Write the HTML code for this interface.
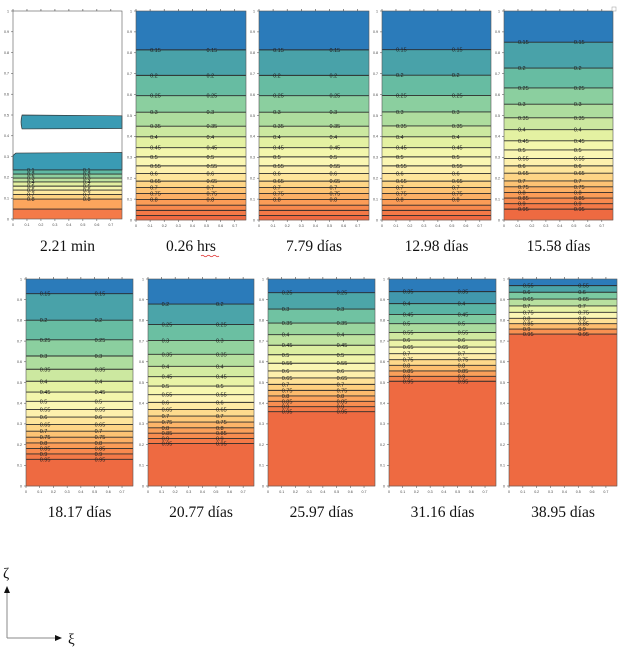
<!DOCTYPE html>
<html><head><meta charset="utf-8"><style>
body{margin:0;background:#fff;width:627px;height:653px;overflow:hidden;font-family:"Liberation Serif",serif}
svg{position:absolute;left:0;top:0}
</style></head><body>
<svg id="chart" width="627" height="653" viewBox="0 0 627 653"></svg>
<script>
// panel titles
const titles = ["2.21 min","0.26 hrs","7.79 días","12.98 días","15.58 días","18.17 días","20.77 días","25.97 días","31.16 días","38.95 días"];
// contour levels per panel
const levels2 = [0.15,0.2,0.25,0.3,0.35,0.4,0.45,0.5,0.55,0.6,0.65,0.7,0.75,0.8,0.85,0.9,0.95];
const pos2 = [0.814,0.692,0.595,0.516,0.449,0.398,0.346,0.302,0.259,0.222,0.186,0.156,0.127,0.098,0.071,0.046,0.021];
const pos3 = [0.814,0.692,0.595,0.516,0.449,0.398,0.346,0.302,0.259,0.222,0.186,0.156,0.127,0.098,0.071,0.046,0.021];
const pos4 = [0.815,0.693,0.596,0.517,0.450,0.398,0.346,0.302,0.259,0.222,0.186,0.156,0.127,0.098,0.071,0.046,0.021];
const pos5 = [0.851,0.727,0.632,0.554,0.489,0.432,0.379,0.335,0.294,0.259,0.224,0.187,0.159,0.132,0.105,0.078,0.052];
const levels6 = [0.15,0.2,0.25,0.3,0.35,0.4,0.45,0.5,0.55,0.6,0.65,0.7,0.75,0.8,0.85,0.9,0.95];
const pos6 = [0.929,0.801,0.706,0.628,0.564,0.506,0.454,0.409,0.370,0.333,0.297,0.265,0.236,0.208,0.181,0.155,0.129];
const levels7 = [0.2,0.25,0.3,0.35,0.4,0.45,0.5,0.55,0.6,0.65,0.7,0.75,0.8,0.85,0.9,0.95];
const pos7 = [0.879,0.780,0.703,0.636,0.578,0.528,0.483,0.441,0.404,0.370,0.338,0.309,0.281,0.255,0.229,0.205];
const levels8 = [0.25,0.3,0.35,0.4,0.45,0.5,0.55,0.6,0.65,0.7,0.75,0.8,0.85,0.9,0.95];
const pos8 = [0.934,0.855,0.787,0.731,0.680,0.634,0.593,0.556,0.522,0.491,0.462,0.435,0.409,0.383,0.359];
const levels9 = [0.35,0.4,0.45,0.5,0.55,0.6,0.65,0.7,0.75,0.8,0.85,0.9,0.95];
const pos9 = [0.939,0.881,0.829,0.784,0.742,0.705,0.671,0.639,0.610,0.583,0.556,0.530,0.506];
const levels10 = [0.55,0.6,0.65,0.7,0.75,0.8,0.85,0.9,0.95];
const pos10 = [0.968,0.936,0.903,0.870,0.839,0.810,0.784,0.758,0.734];
const levels1 = [0.1,0.2,0.3,0.4,0.5,0.6,0.7,0.8,0.9];
const pos1 = [0.236,0.216,0.197,0.178,0.158,0.139,0.118,0.096,0.048];
const xTicks = [0,0.1,0.2,0.3,0.4,0.5,0.6,0.7];
const yTicks = [0,0.1,0.2,0.3,0.4,0.5,0.6,0.7,0.8,0.9,1];

const panels = [
 {x:13,y:11,w:109,h:208,lv:levels1,p:pos1,ty:246},
 {x:136,y:11,w:110,h:209,lv:levels2,p:pos2,ty:246},
 {x:259,y:11,w:110,h:209,lv:levels2,p:pos3,ty:246},
 {x:382,y:11,w:109,h:209,lv:levels2,p:pos4,ty:246},
 {x:504,y:11,w:109,h:209,lv:levels2,p:pos5,ty:246},
 {x:26,y:279,w:107,h:207,lv:levels6,p:pos6,ty:512},
 {x:148,y:279,w:106,h:207,lv:levels7,p:pos7,ty:512},
 {x:268,y:279,w:107,h:207,lv:levels8,p:pos8,ty:512},
 {x:389,y:279,w:107,h:207,lv:levels9,p:pos9,ty:512},
 {x:509,y:279,w:108,h:207,lv:levels10,p:pos10,ty:512}
];
const cmap=['#2b7bba','#3f96ae','#55b0a4','#77c7a1','#9fd79d','#c4e5a0','#e2f0a1','#f5f7ad','#fdf6b6','#fee8a0','#fed282','#fdb96b','#fb9c57','#f5804a','#ee6a41'];
function cm(t){t=Math.max(0,Math.min(1,t));const f=t*(cmap.length-1),i=Math.floor(f),r=f-i;
 if(i>=cmap.length-1)return cmap[cmap.length-1];
 const a=cmap[i],b=cmap[i+1];const h=(s,k)=>parseInt(s.substr(1+2*k,2),16);
 return 'rgb('+[0,1,2].map(k=>Math.round(h(a,k)*(1-r)+h(b,k)*r)).join(',')+')';}
const NS='http://www.w3.org/2000/svg';
const svg=document.getElementById('chart');
function mk(tag,at,parent){const e=document.createElementNS(NS,tag);for(const k in at)e.setAttribute(k,at[k]);(parent||svg).appendChild(e);return e;}

panels.forEach((P,pi)=>{
 const g=mk('g',{});
 
 
 const xs=v=>P.x+v/0.78*P.w, ys=v=>P.y+P.h-v*P.h;
 const n=P.p.length;
 if(pi===0){
  const blob=mk('path',{d:`M${xs(0.065)},${ys(0.5)} L${xs(0.78)},${ys(0.496)} L${xs(0.78)},${ys(0.435)} L${xs(0.065)},${ys(0.433)} Q${xs(0.05)},${ys(0.466)} ${xs(0.065)},${ys(0.5)}Z`,fill:'#3a9bb4',stroke:'#333','stroke-width':0.7},g);
  
  
  mk('path',{d:`M${xs(0)},${ys(0.305)} L${xs(0.02)},${ys(0.317)} L${xs(0.78)},${ys(0.32)} L${xs(0.78)},${ys(P.p[0])} L${xs(0)},${ys(P.p[0])}Z`,fill:'#3a9bb4',stroke:'#333','stroke-width':0.7},g);
  const c1=['#5fb9a3','#8fd09e','#bfe2a0','#e3f0a1','#f6f6ad','#fee9a0','#fed282','#fca55d','#f47a48'];
  for(let i=0;i<n;i++){
   const top=P.p[i],bot=i+1<n?P.p[i+1]:0;
   mk('rect',{x:P.x,y:ys(top),width:P.w,height:(top-bot)*P.h,fill:c1[i]},g);
  }
 } else {
  const nb=n+1;
  const ex=nb>14?0.8:1;
  for(let i=0;i<nb;i++){
   const top=i===0?1:P.p[i-1], bot=i<n?P.p[i]:0;
   const r=mk('rect',{x:P.x,y:ys(top),width:P.w,height:(top-bot)*P.h+0.3,fill:cm(Math.pow(i/(nb-1),ex))},g);
   
   
  }
 }
 for(let i=0;i<n;i++){
  const y=ys(P.p[i]);
  const l=mk('line',{x1:P.x,x2:P.x+P.w,y1:y,y2:y,stroke:'#2a2a2a','stroke-width':0.9},g);
  
  
  if(!(pi===1||pi===2||pi===3)||i<14){
   if(pi===0&&i===n-1)continue;
   [0.1,0.5].forEach(xv=>{
    const lab=String(P.lv[i]);
    const tx=xs(xv);
    const t=mk('text',{x:tx,y:y+2,'font-size':5.5,'font-family':'Liberation Sans, sans-serif',fill:'#222'},g);
    t.textContent=lab;
    
    
   });
  }
 }
 mk('rect',{x:P.x,y:P.y,width:P.w,height:P.h,fill:'none',stroke:'#555','stroke-width':0.6},g);
 yTicks.forEach(v=>{
  const y=ys(v);
  mk('line',{x1:P.x-2,x2:P.x,y1:y,y2:y,stroke:'#444','stroke-width':0.5},g);
  const t=mk('text',{x:P.x-4,y:y+1.3,'font-size':3.6,'text-anchor':'end','font-family':'Liberation Sans, sans-serif',fill:'#444'},g);
  t.textContent=String(v);
 });
 xTicks.forEach(v=>{
  const x=xs(v);
  mk('line',{x1:x,x2:x,y1:P.y+P.h,y2:P.y+P.h+2,stroke:'#444','stroke-width':0.5},g);
  mk('line',{x1:x,x2:x,y1:P.y-2,y2:P.y,stroke:'#444','stroke-width':0.6},g);
  const t=mk('text',{x:x,y:P.y+P.h+7,'font-size':3.6,'text-anchor':'middle','font-family':'Liberation Sans, sans-serif',fill:'#444'},g);
  t.textContent=String(v);
 });
 const tt=mk('text',{x:P.x+P.w/2,y:P.ty+5,'font-size':15.5,'text-anchor':'middle','font-family':'Liberation Serif, serif',fill:'#111'},g);
 tt.textContent=titles[pi];
 
 
 if(pi===1){mk('path',{d:'M201,256 q1.5,-1.5 3,0 t3,0 t3,0 t3,0 t3,0 t3,0',fill:'none',stroke:'#d22','stroke-width':0.8},g);}
});
const ax=mk('g',{});


mk('line',{x1:7,y1:638,x2:7,y2:593,stroke:'#888','stroke-width':1},ax);
mk('polygon',{points:'4,593 10,593 7,586',fill:'#111'},ax);
mk('line',{x1:7,y1:638,x2:56,y2:638,stroke:'#888','stroke-width':1},ax);
mk('polygon',{points:'55,635 55,641 62,638',fill:'#111'},ax);
const z=mk('text',{x:3,y:578,'font-size':15,'font-family':'Liberation Serif, serif',fill:'#111'},ax);z.textContent='ζ';
const xi=mk('text',{x:68,y:644,'font-size':15,'font-family':'Liberation Serif, serif',fill:'#111'},ax);xi.textContent='ξ';
mk('rect',{x:612,y:7,width:4,height:4,fill:'#fff',stroke:'#999','stroke-width':0.5});
</script>
</body></html>
